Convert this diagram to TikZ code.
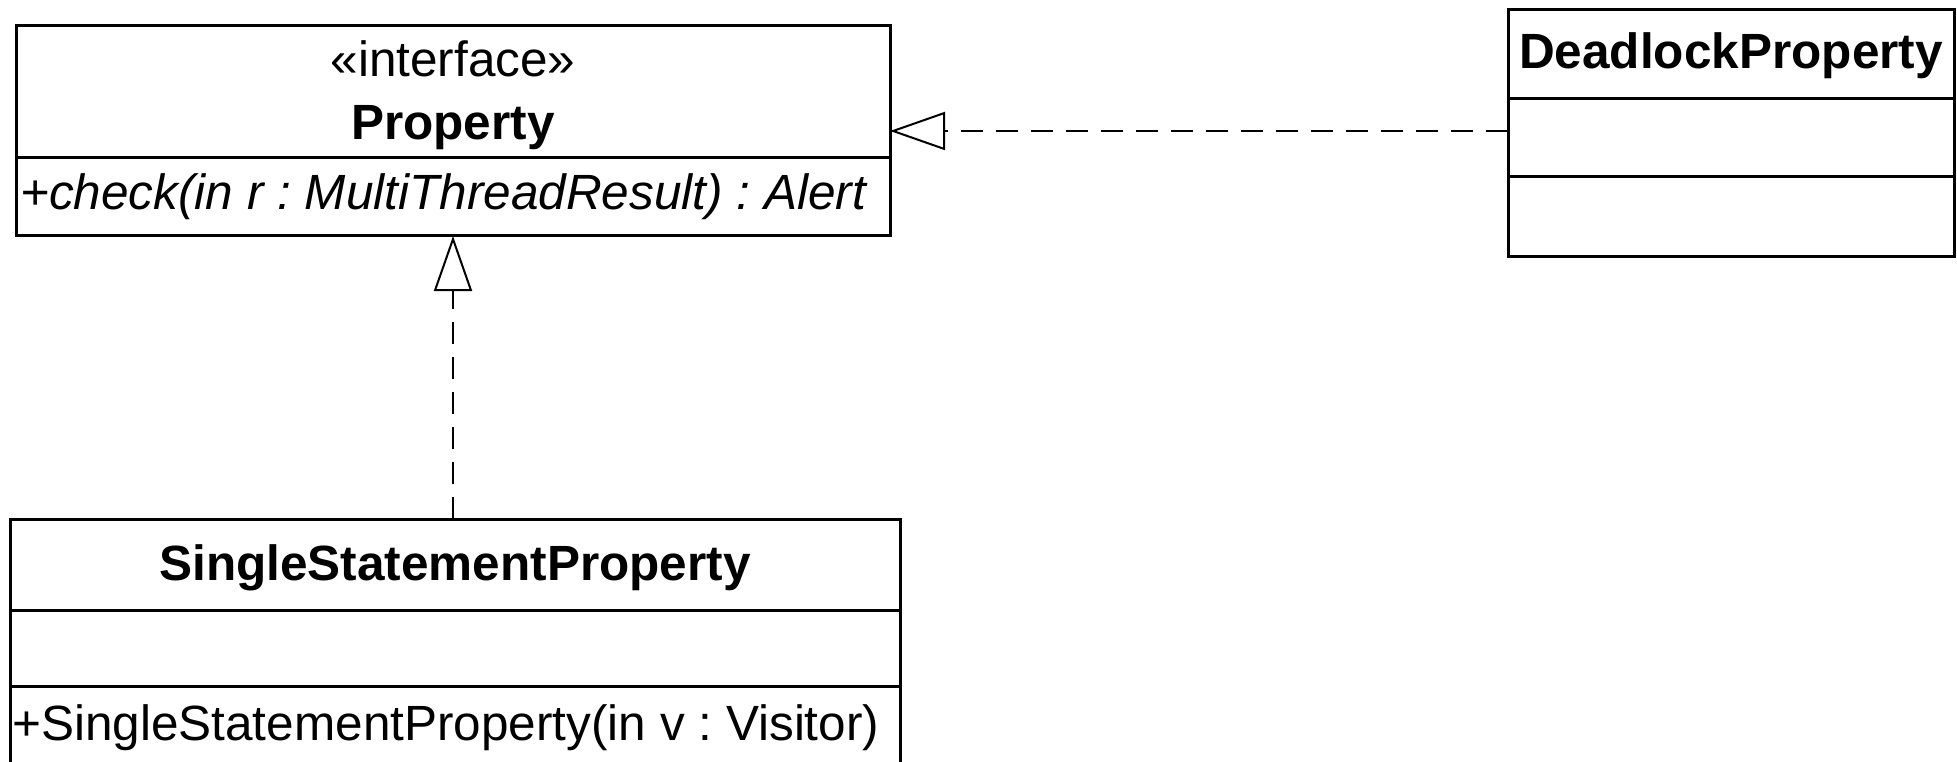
\documentclass[tikz,border=0pt]{standalone}
\usepackage{fontspec}
\setmainfont{Liberation Sans}
\usetikzlibrary{arrows.meta}
\frenchspacing
\begin{document}
\begin{tikzpicture}[x=1pt,y=-1pt,
  classbox/.style={draw, line width=3pt, inner sep=0pt, outer sep=0pt, anchor=north west},
  divider/.style={line width=3pt},
  lbl/.style={inner sep=0pt, anchor=base, font=\fontsize{49.5}{58}\selectfont\frenchspacing},
  lblleft/.style={lbl, anchor=base west},
  realize/.style={line width=2pt, dash pattern=on 22pt off 13pt,
    -{Triangle[open, length=55pt, width=38pt, line width=2pt]}}
]
\useasboundingbox (0,0) rectangle (1957,762);

% interface Property
\node[classbox, minimum width=874pt, minimum height=210pt] (prop) at (16,26) {};
\draw[divider] (16,158) -- (890,158);
\node[lbl] (propster) at (453,77) {«interface»};
\node[lbl] (propname) at (453,140) {\bfseries Property};
\node[lblleft] (propop) at (20,210) {\itshape +check(in r : MultiThreadResult) : Alert};

% class DeadlockProperty
\node[classbox, minimum width=446pt, minimum height=246pt] (dead) at (1508,10) {};
\draw[divider] (1508,99) -- (1954,99);
\draw[divider] (1508,177) -- (1954,177);
\node[lbl] (deadname) at (1731,69) {\bfseries DeadlockProperty};

% class SingleStatementProperty
\node[classbox, minimum width=890pt, minimum height=248pt] (single) at (10,519) {};
\draw[divider] (10,610) -- (900,610);
\draw[divider] (10,686) -- (900,686);
\node[lbl] (singlename) at (455,580) {\bfseries SingleStatementProperty};
\node[lblleft] (singleop) at (12,740) {+SingleStatementProperty(in v : Visitor)};

% realizations
\draw[realize] (dead.west |- prop.east) -- (prop.east);
\draw[realize] (single.north -| prop.south) -- (prop.south);
\end{tikzpicture}
\end{document}
